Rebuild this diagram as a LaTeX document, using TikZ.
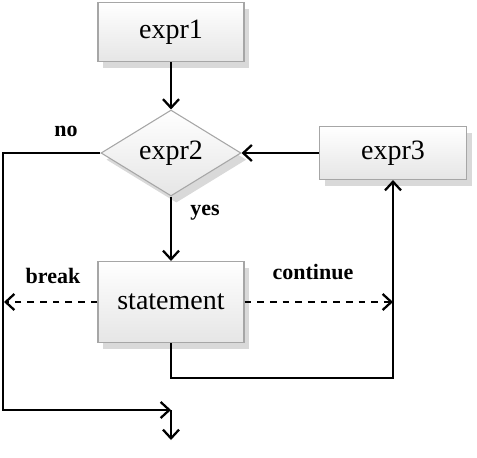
\documentclass[tikz,border=0pt]{standalone}
\usepackage{fontspec}
\setmainfont{Liberation Serif}
\usetikzlibrary{shapes.geometric,shadows,arrows.meta}

\tikzset{
    box/.style={draw=gray!70, line width=0.8pt, top color=white, bottom color=gray!20,
        drop shadow={shadow xshift=4pt, shadow yshift=-5pt, opacity=0.3, fill=gray},
        font=\fontsize{21}{25}\selectfont},
    decision/.style={box, diamond, aspect=1.63, inner sep=0pt},
    flow/.style={line width=1.9pt, >={Straight Barb[length=6.5pt, width=12pt, line width=1.7pt]}},
    jump/.style={flow, dash pattern=on 5pt off 4.5pt},
    lbl/.style={font=\fontsize{16.5}{20}\selectfont\bfseries}
}

\begin{document}
\begin{tikzpicture}[x=0.75pt, y=-0.75pt]
        \useasboundingbox (0,0) rectangle (477,457);

        % boxes
        \node[box, minimum width=109.5pt, minimum height=44.25pt] (e1) at (171,32) {expr1};
        \node[decision, minimum width=105pt, minimum height=64.5pt] (e2) at (171,153) {expr2};
        \node[box, minimum width=110.25pt, minimum height=39.75pt] (e3) at (393,153) {expr3};
        \node[box, minimum width=109.5pt, minimum height=60.75pt] (st) at (171,302) {statement};

        % helper points
        \coordinate (nobend) at (3,410);
        \coordinate (join) at (171,410);
        \coordinate (out) at (171,440);
        \coordinate (brk) at (4,302);
        \coordinate (cont) at (393,302);
        \coordinate (loop) at (393,378);

        % connectors
        \draw[flow, ->] (e1) -- (e2);
        \draw[flow, ->] (e3) -- (e2);
        \draw[flow, ->] (e2) -- (st);
        \draw[flow, ->] (e2.west) -| (nobend) -- (join);
        \draw[flow, ->] (join) -- (out);
        \draw[flow, ->] (st.south) |- (loop) -- (e3.south);
        \draw[jump, ->] (st.west) -- (brk);
        \draw[jump, ->] (st.east) -- (cont);

        % labels
        \node[lbl] (nolbl) at (66,131) {no};
        \node[lbl] (yeslbl) at (205,213) {yes};
        \node[lbl] (brklbl) at (53,276) {break};
        \node[lbl] (contlbl) at (313,272) {continue};
    \end{tikzpicture}
\end{document}
